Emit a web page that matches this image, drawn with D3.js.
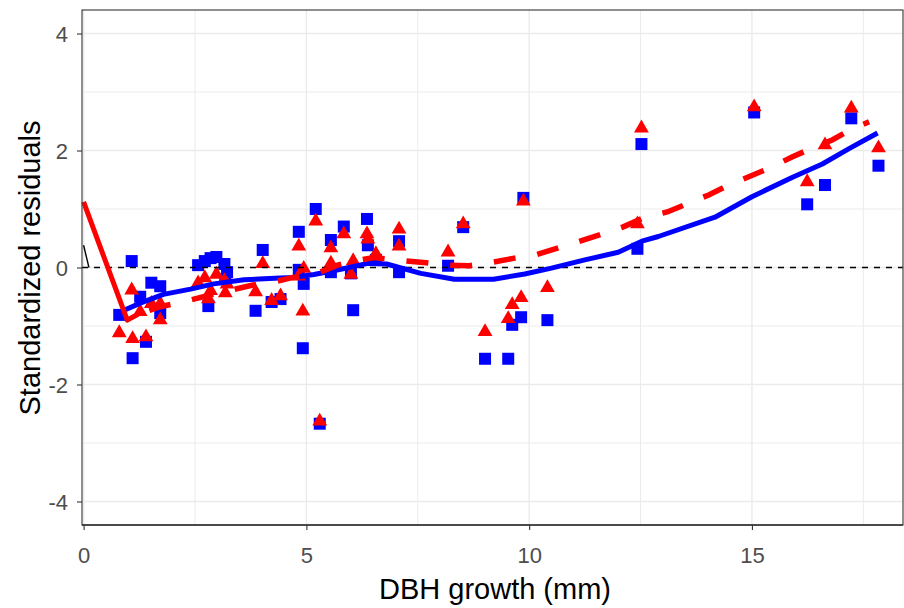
<!DOCTYPE html>
<html lang="en">
<head>
    <meta charset="utf-8">
    <script src="https://d3js.org/d3.v7.min.js"></script>
    <style>
        body { margin: 0; background: #fff; }
        text { font-family: "Liberation Sans", Arial, sans-serif; }
    </style>
</head>
<body>
<script>
    var w = 904, h = 608;

    // observations: DBH growth, blue (squares) and red (triangles) residuals
    var growth = [0.80, 1.08, 1.10, 1.27, 1.40, 1.52, 1.72, 1.72, 2.57, 2.72, 2.85, 2.98, 3.16, 3.22,
        2.80, 3.18, 3.86, 4.02, 4.22, 4.42, 4.83, 4.83, 4.94, 4.92, 5.21, 5.30, 5.55, 5.55, 5.84, 6.00,
        6.05, 6.36, 6.38, 6.56, 7.08, 7.08, 8.18, 8.52, 9.01, 9.53, 9.62, 9.82, 9.87, 10.41, 12.43,
        12.52, 15.05, 16.24, 16.64, 17.23, 17.84];
    var residBlue = [-0.81, 0.11, -1.55, -0.50, -1.27, -0.26, -0.32, -0.78, 0.04, 0.11, 0.16, 0.18, 0.06, -0.08,
        -0.66, -0.20, -0.74, 0.30, -0.59, -0.54, 0.61, -0.04, -0.28, -1.38, 1.00, -2.67, 0.47, -0.08, 0.70, -0.10,
        -0.73, 0.83, 0.38, 0.13, 0.45, -0.08, 0.03, 0.69, -1.56, -1.56, -0.98, -0.85, 1.19, -0.90, 0.32,
        2.11, 2.65, 1.08, 1.41, 2.55, 1.74];
    var residRed = [-1.10, -0.37, -1.20, -0.74, -1.17, -0.60, -0.60, -0.88, -0.25, -0.16, -0.38, -0.10, -0.21, -0.27,
        -0.52, -0.42, -0.40, 0.08, -0.55, -0.47, 0.38, -0.13, 0.00, -0.73, 0.81, -2.61, 0.35, 0.09, 0.59, -0.10,
        0.13, 0.59, 0.50, 0.25, 0.67, 0.38, 0.28, 0.76, -1.08, -0.86, -0.62, -0.50, 1.15, -0.33, 0.76,
        2.40, 2.76, 1.48, 2.11, 2.74, 2.06];

    // smoothed curves
    var blueSmoothX = [0.82, 1.3, 1.79, 2.4, 2.92, 3.6, 4.4, 4.7, 5.17, 5.77, 6.38, 6.8, 7.57, 8.32, 9.2, 9.9,
        10.5, 11.25, 12.0, 12.53, 12.9, 14.17, 15.0, 15.9, 16.58, 17.2, 17.82];
    var blueSmoothY = [-0.76, -0.6, -0.46, -0.37, -0.28, -0.21, -0.18, -0.17, -0.12, -0.03, 0.07, 0.06, -0.1, -0.2,
        -0.2, -0.11, -0.01, 0.13, 0.26, 0.45, 0.53, 0.86, 1.21, 1.54, 1.77, 2.04, 2.3];
    var redSolidX = [0, 0.98, 1.22];
    var redSolidY = [1.12, -0.9, -0.8];
    var redDashX = [1.22, 1.72, 2.22, 3.0, 3.8, 4.2, 4.7, 5.17, 5.7, 6.07, 6.52, 7.12, 7.69, 8.1, 8.65, 9.1, 9.67,
        10.16, 10.68, 11.1, 11.63, 12.1, 12.6, 13.1, 13.58, 14.03, 14.48, 14.93, 15.45, 15.9, 16.35, 16.8, 17.2, 17.63];
    var redDashY = [-0.8, -0.67, -0.59, -0.44, -0.3, -0.26, -0.17, -0.12, 0.04, 0.11, 0.17, 0.12, 0.08, 0.04, 0.03,
        0.08, 0.16, 0.22, 0.34, 0.44, 0.57, 0.69, 0.86, 0.95, 1.1, 1.24, 1.41, 1.55, 1.72, 1.89, 2.04, 2.18, 2.35, 2.49];
    var blackX = [0, 0.12];
    var blackY = [0.38, 0];

    var xTicks = [0, 5, 10, 15];
    var xMinor = [2.5, 7.5, 12.5, 17.5];
    var yTicks = [-4, -2, 0, 2, 4];
    var yMinor = [-3, -1, 1, 3];

    var pLeft = 82, pRight = 903, pTop = 10, pBottom = 525;

    var x = d3.scaleLinear().domain([0, 18]).range([83.6, 885.6]);
    var y = d3.scaleLinear().domain([-4, 4]).range([501.5, 33.5]);

    var svg = d3.select('body').append('svg').attr('width', w).attr('height', h);

    // grid
    var grid = svg.append('g');
    grid.selectAll('.xminor').data(xMinor).enter().append('line')
        .attr('x1', d => x(d)).attr('x2', d => x(d)).attr('y1', pTop).attr('y2', pBottom)
        .attr('stroke', '#EBEBEB').attr('stroke-width', 1);
    grid.selectAll('.yminor').data(yMinor).enter().append('line')
        .attr('y1', d => y(d)).attr('y2', d => y(d)).attr('x1', pLeft).attr('x2', pRight)
        .attr('stroke', '#EBEBEB').attr('stroke-width', 1);
    grid.selectAll('.xmajor').data(xTicks).enter().append('line')
        .attr('x1', d => x(d)).attr('x2', d => x(d)).attr('y1', pTop).attr('y2', pBottom)
        .attr('stroke', '#EBEBEB').attr('stroke-width', 1.4);
    grid.selectAll('.ymajor').data(yTicks).enter().append('line')
        .attr('y1', d => y(d)).attr('y2', d => y(d)).attr('x1', pLeft).attr('x2', pRight)
        .attr('stroke', '#EBEBEB').attr('stroke-width', 1.4);

    var pts = growth.map(function(g, i) { return {x: g, b: residBlue[i], r: residRed[i]}; });

    // blue squares
    svg.append('g').selectAll('rect').data(pts).enter().append('rect')
        .attr('x', d => x(d.x) - 6).attr('y', d => y(d.b) - 6)
        .attr('width', 12).attr('height', 12).attr('fill', '#0000FF');

    // red triangles
    var tri = d3.symbol().type(d3.symbolTriangle).size(95);
    svg.append('g').selectAll('path').data(pts).enter().append('path')
        .attr('d', tri)
        .attr('transform', d => 'translate(' + x(d.x) + ',' + (y(d.r) + 1) + ')')
        .attr('fill', '#FF0000');

    // reference line at zero
    svg.append('line')
        .attr('x1', pLeft).attr('x2', pRight).attr('y1', y(0)).attr('y2', y(0))
        .attr('stroke', 'black').attr('stroke-width', 1.4).attr('stroke-dasharray', '6,6');

    var line = d3.line().x(d => x(d[0])).y(d => y(d[1])).curve(d3.curveLinear);
    function zip(a, b) { return a.map(function(v, i) { return [v, b[i]]; }); }

    svg.append('path').attr('d', line(zip(blackX, blackY)))
        .attr('stroke', 'black').attr('stroke-width', 1.4).attr('fill', 'none');

    svg.append('path').attr('d', line(zip(blueSmoothX, blueSmoothY)))
        .attr('stroke', '#0000FF').attr('stroke-width', 5).attr('fill', 'none')
        .attr('stroke-linejoin', 'round');

    svg.append('path').attr('d', line(zip(redSolidX, redSolidY)))
        .attr('stroke', '#FF0000').attr('stroke-width', 5).attr('fill', 'none')
        .attr('stroke-linejoin', 'round');

    svg.append('path').attr('d', line(zip(redDashX, redDashY)))
        .attr('stroke', '#FF0000').attr('stroke-width', 5.5).attr('fill', 'none')
        .attr('stroke-dasharray', '22,22').attr('stroke-dashoffset', 32);

    // panel border
    svg.append('rect').attr('x', pLeft).attr('y', pTop)
        .attr('width', pRight - pLeft).attr('height', pBottom - pTop)
        .attr('fill', 'none').attr('stroke', '#333333').attr('stroke-width', 1.1);
    svg.append('line').attr('x1', pLeft).attr('x2', pRight).attr('y1', pBottom).attr('y2', pBottom)
        .attr('stroke', '#333333').attr('stroke-width', 1.6);

    // axes
    var xAxis = svg.append('g').attr('transform', 'translate(0,' + pBottom + ')')
        .call(d3.axisBottom(x).tickValues(xTicks).tickSize(5).tickPadding(17).tickFormat(d3.format('d')));
    var yAxis = svg.append('g').attr('transform', 'translate(' + pLeft + ',0)')
        .call(d3.axisLeft(y).tickValues(yTicks).tickSize(5).tickPadding(9).tickFormat(function(d) { return d < 0 ? '-' + Math.abs(d) : d; }));
    [xAxis, yAxis].forEach(function(a) {
        a.attr('font-size', null).attr('font-family', null);
        a.select('.domain').remove();
        a.selectAll('.tick line').attr('stroke', '#333333').attr('stroke-width', 1.1);
        a.selectAll('.tick text').attr('fill', '#4D4D4D').style('font-size', '22px');
    });
    yAxis.selectAll('.tick text').attr('dy', '0.35em');

    svg.append('text').attr('x', 495).attr('y', 599)
        .attr('text-anchor', 'middle').style('font-size', '29px').attr('fill', 'black')
        .text('DBH growth (mm)');
    svg.append('text').attr('transform', 'translate(40,268) rotate(-90)')
        .attr('text-anchor', 'middle').style('font-size', '29px').attr('fill', 'black')
        .text('Standardized residuals');
</script>
</body>
</html>
